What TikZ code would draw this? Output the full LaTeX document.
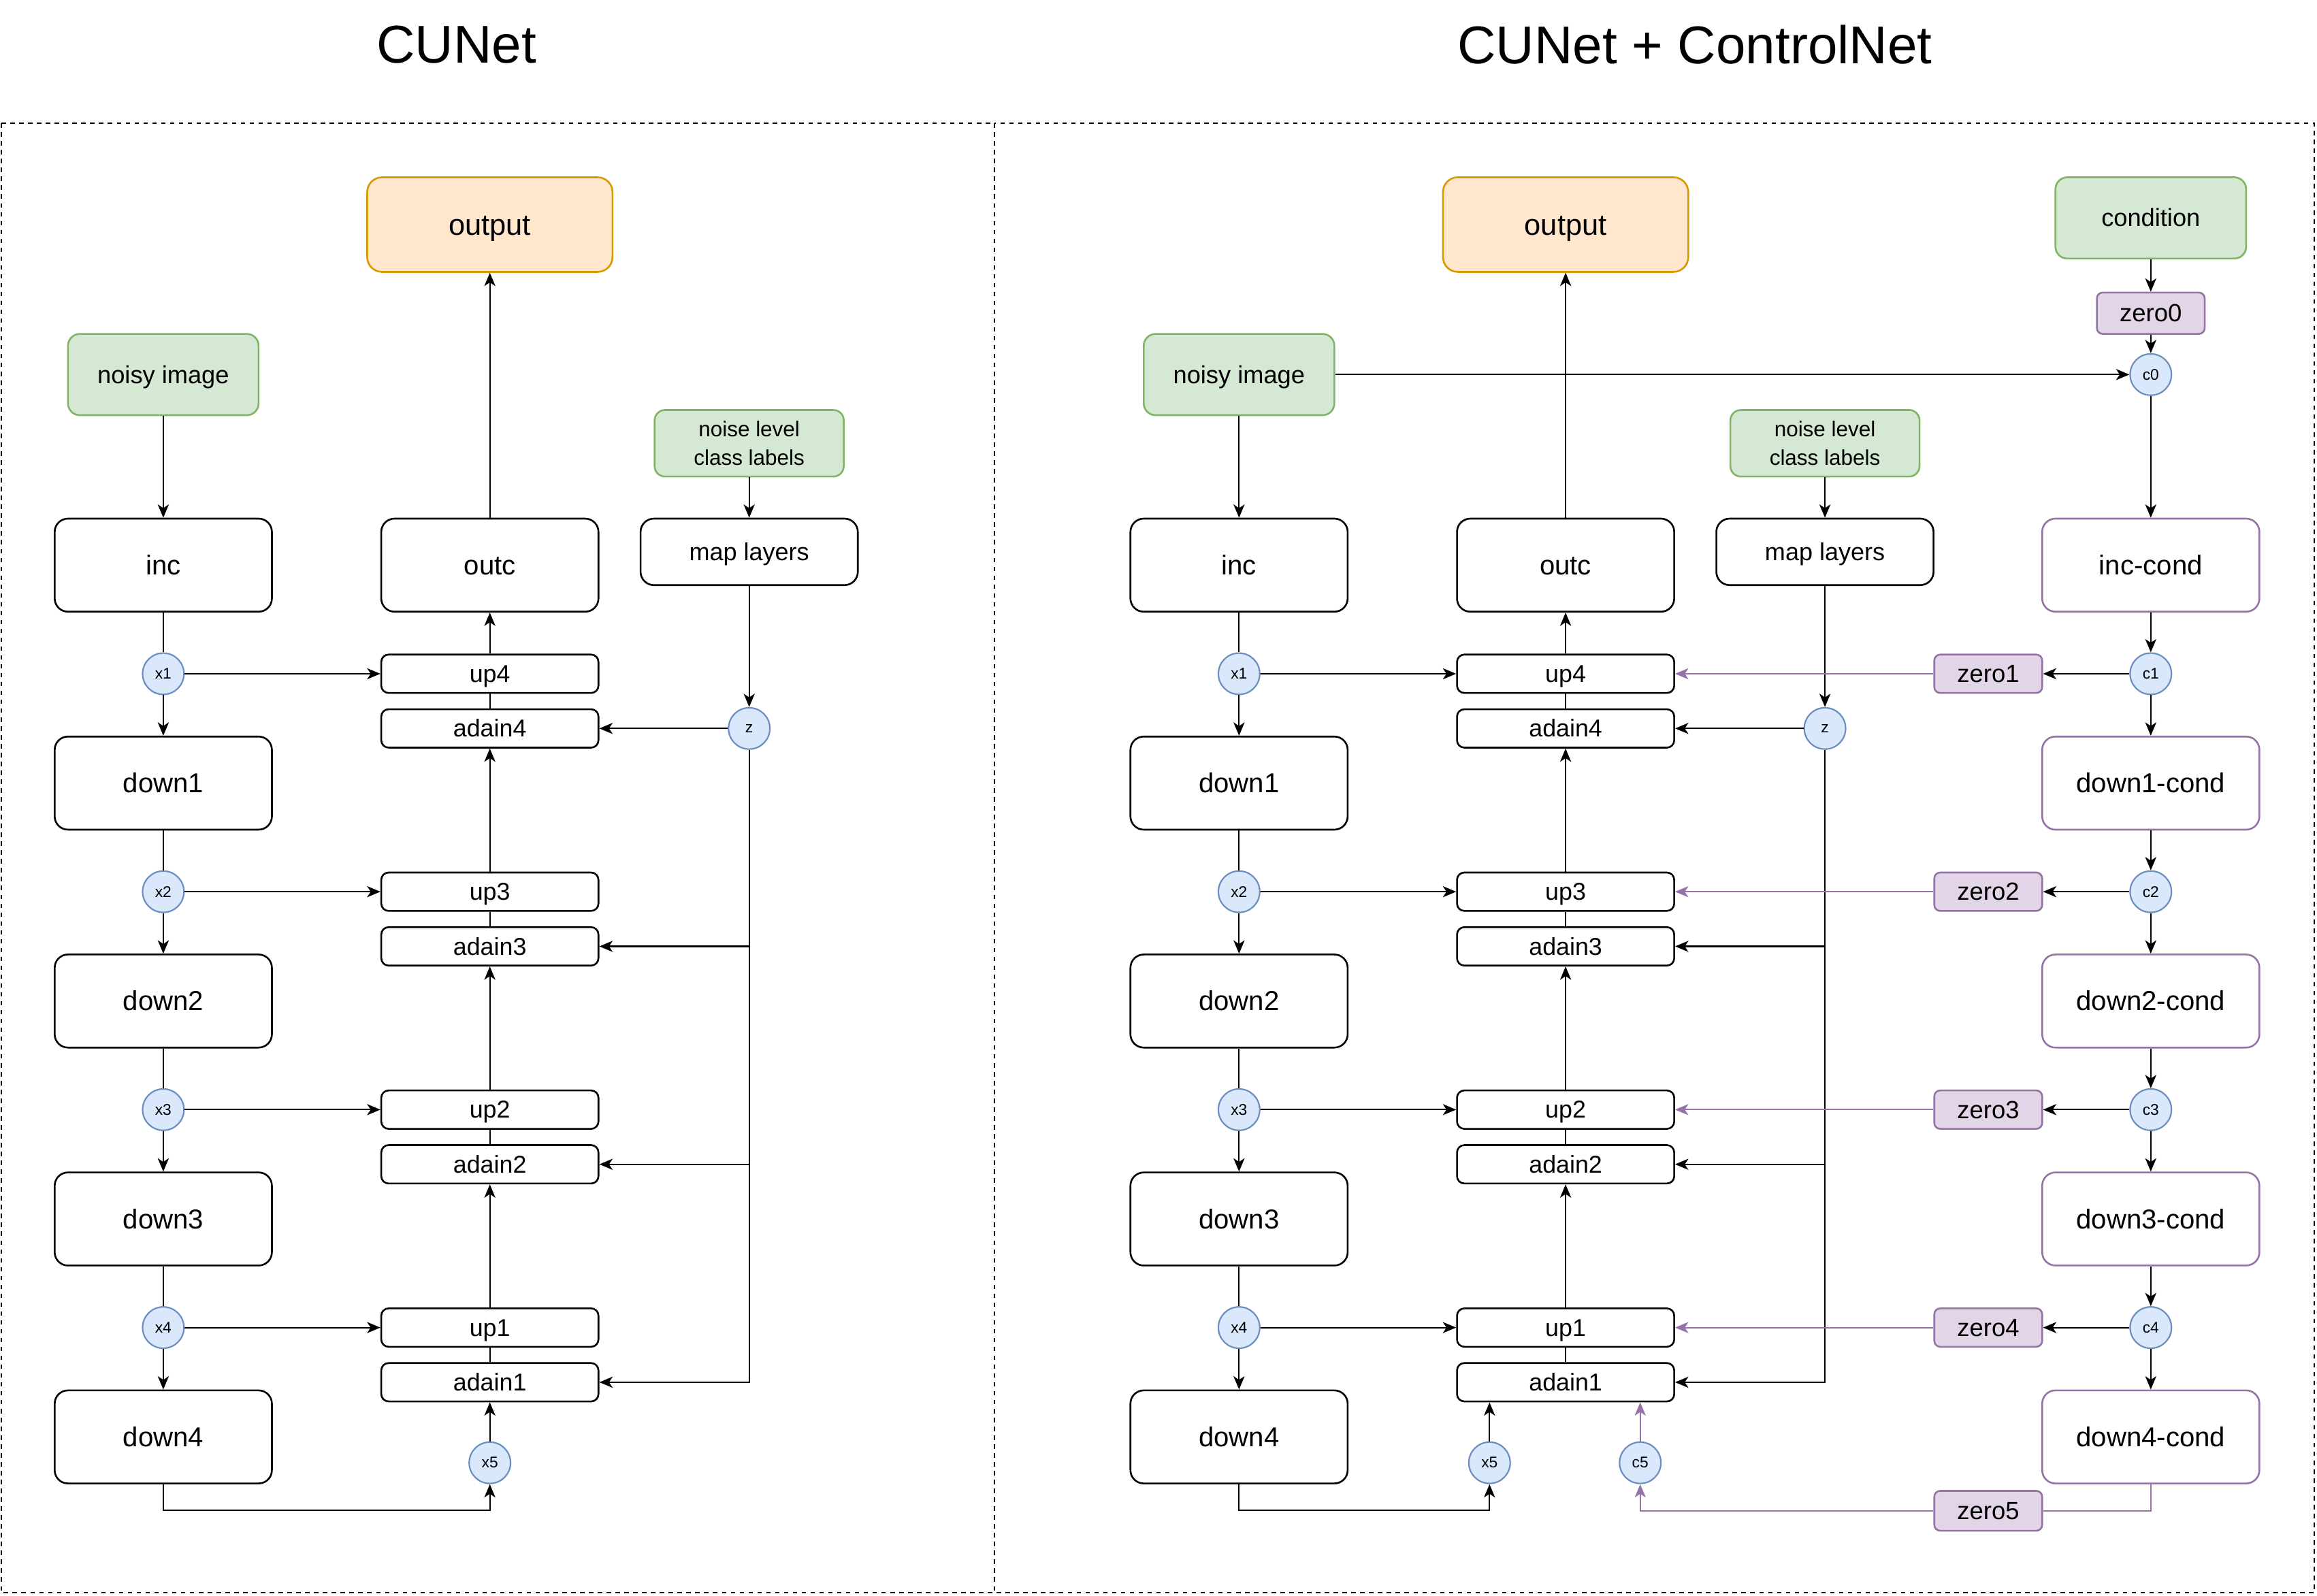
\documentclass[tikz,border=0pt]{standalone}
\usepackage{fontspec}
\setmainfont{Liberation Sans}
\usetikzlibrary{arrows.meta}
\definecolor{gfill}{HTML}{D5E8D4}
\definecolor{gdraw}{HTML}{82B366}
\definecolor{ofill}{HTML}{FFE6CC}
\definecolor{odraw}{HTML}{D79B00}
\definecolor{pfill}{HTML}{E1D5E7}
\definecolor{pdraw}{HTML}{9673A6}
\definecolor{bfill}{HTML}{DAE8FC}
\definecolor{bdraw}{HTML}{6C8EBF}
\tikzset{
  box/.style={draw=black, line width=1.2pt, rounded corners=9pt, minimum width=147pt, minimum height=63pt, inner sep=0pt, text height=16.6pt, text depth=3.7pt, font=\fontsize{18.5}{22}\selectfont},
  pbox/.style={box, draw=pdraw},
  small/.style={draw=black, line width=1.2pt, rounded corners=5pt, minimum width=147pt, minimum height=26pt, inner sep=0pt, text height=14.85pt, text depth=3.3pt, font=\fontsize{16.5}{20}\selectfont},
  gbox/.style={draw=gdraw, fill=gfill, line width=1.2pt, rounded corners=8pt, inner sep=0pt, font=\fontsize{16.7}{20}\selectfont},
  gtxt/.style={text height=15pt, text depth=3.3pt},
  obox/.style={draw=odraw, fill=ofill, line width=1.2pt, rounded corners=10pt, minimum width=166pt, minimum height=64pt, inner sep=0pt, text height=18pt, text depth=4pt, font=\fontsize{20}{24}\selectfont},
  zbox/.style={draw=pdraw, fill=pfill, line width=1.2pt, rounded corners=4pt, minimum width=73pt, minimum height=26pt, inner sep=0pt, text height=15.1pt, text depth=3.4pt, font=\fontsize{16.8}{20}\selectfont},
  circ/.style={circle, draw=bdraw, fill=bfill, line width=1pt, minimum size=28pt, inner sep=0pt, font=\fontsize{10.5}{12}\selectfont},
  tip/.tip={Stealth[length=9pt,width=7.5pt,inset=2.5pt]},
  ln/.style={draw=black, line width=1pt},
  conn/.style={ln, -tip},
  pln/.style={draw=pdraw, line width=1pt},
  pconn/.style={pln, -tip},
  frame/.style={draw=black, line width=0.8pt, dash pattern=on 3pt off 3pt},
  title/.style={font=\fontsize{36}{40}\selectfont, inner sep=0pt}
}
\newcommand\panelbody{%
  \node[obox] (out) at (331.5,152) {output};
  \node[gbox, gtxt, minimum width=129pt, minimum height=55pt] (noisy) at (110.5,253.5) {noisy image};
  \node[gbox, minimum width=128pt, minimum height=45pt, align=center, rounded corners=7pt, font=\fontsize{14.5}{19}\selectfont] (noise) at (507,300) {noise level\\class labels};
  \node[box] (inc) at (110.5,382.5) {inc};
  \node[box] (outc) at (331.5,382.5) {outc};
  \node[box, minimum height=45pt, text height=14.9pt, text depth=3.3pt, font=\fontsize{16.6}{20}\selectfont] (map) at (507,373.5) {map layers};
  \node[circ] (z) at (507,493) {z};
  \foreach \i/\j/\y in {1/4/456,2/3/603.5,3/2/751,4/1/898.5}{
    \node[circ] (x\i) at (110.5,\y) {x\i};
    \node[box] (down\i) at (110.5,\y+74) {down\i};
    \node[small] (up\j) at (331.5,\y) {up\j};
    \node[small] (adain\j) at (331.5,\y+37) {adain\j};
  }
  \foreach \i/\j in {1/4,2/3,3/2,4/1}{
    \draw[conn] (x\i) -- (down\i);
    \draw[conn] (x\i) -- (up\j);
    \draw[ln] (up\j) -- (adain\j);
  }
  \foreach \a/\b in {inc/x1,down1/x2,down2/x3,down3/x4}{\draw[ln] (\a) -- (\b);}
  \foreach \a/\b in {up1/adain2,up2/adain3,up3/adain4}{\draw[conn] (\a) -- (\b);}
  \draw[conn] (noisy) -- (inc);
  \draw[conn] (up4) -- (outc);
  \draw[conn] (outc) -- (out);
  \draw[conn] (noise) -- (map);
  \draw[conn] (map) -- (z);
  \draw[conn] (z) -- (adain4);
  \draw[conn] (z) |- (adain1);
  \draw[conn] (z |- adain3) -- (adain3);
  \draw[conn] (z |- adain2) -- (adain2);
}
\begin{document}
\begin{tikzpicture}[x=1pt,y=-1pt]
\useasboundingbox (0,0) rectangle (1568,1080);
\node[title] (t1) at (309,30) {CUNet};
\node[title] (t2) at (1147,30) {CUNet + ControlNet};
\draw[frame] (1,83.5) rectangle (673,1078);
\draw[frame] (673,83.5) rectangle (1566,1078);
\begin{scope}[name prefix=L-]
  \panelbody
  \node[circ] (x5) at (331.5,990) {x5};
  \draw[conn] (down4.south) -- ++(0,17.5) -| (x5);
  \draw[conn] (x5) -- (adain1);
\end{scope}
\begin{scope}[xshift=728pt, name prefix=R-]
  \panelbody
  \node[gbox, gtxt, minimum width=129pt, minimum height=55pt] (cond) at (727.5,147.5) {condition};
  \node[zbox, minimum height=28pt] (zero0) at (727.5,212) {zero0};
  \node[circ] (c0) at (727.5,253.5) {c0};
  \node[pbox] (dc0) at (727.5,382.5) {inc-cond};
  \foreach \i/\j/\y in {1/4/456,2/3/603.5,3/2/751,4/1/898.5}{
    \node[circ] (c\i) at (727.5,\y) {c\i};
    \node[pbox] (dc\i) at (727.5,\y+74) {down\i-cond};
    \node[zbox] (zero\i) at (617.5,\y) {zero\i};
  }
  \foreach \i/\j in {1/4,2/3,3/2,4/1}{
    \draw[conn] (c\i) -- (dc\i);
    \draw[conn] (c\i) -- (zero\i);
    \draw[pconn] (zero\i) -- (up\j);
  }
  \foreach \a/\b in {dc0/c1,dc1/c2,dc2/c3,dc3/c4}{\draw[conn] (\a) -- (\b);}
  \draw[conn] (cond) -- (zero0);
  \draw[conn] (zero0) -- (c0);
  \draw[conn] (noisy) -- (c0);
  \draw[conn] (c0) -- (dc0);
  \node[zbox, minimum height=27pt] (zero5) at (617.5,1022.5) {zero5};
  \node[circ] (x5) at (280,990) {x5};
  \node[circ] (c5) at (382,990) {c5};
  \draw[conn] (down4.south) -- ++(0,17.5) -| (x5);
  \draw[conn] (x5) -- (x5 |- adain1.south);
  \draw[pln] (dc4.south) |- (zero5);
  \draw[pconn] (zero5) -| (c5);
  \draw[pconn] (c5) -- (c5 |- adain1.south);
\end{scope}
\end{tikzpicture}
\end{document}
